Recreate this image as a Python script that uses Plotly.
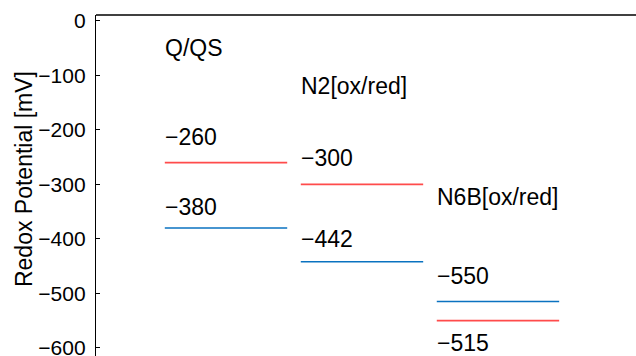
import plotly.graph_objects as go

# Data
groups = ["Q/QS", "N2[ox/red]", "N6B[ox/red]"]
ox_values = [-260, -300, -550]      # red lines
red_values = [-380, -442, -515]     # blue lines
value_labels_top = ["−260", "−300", "−550"]
value_labels_bottom = ["−380", "−442", "−515"]
y_ticks = [0, -100, -200, -300, -400, -500, -600]
y_title = "Redox Potential [mV]"

# Label placement (layout config)
group_label_y = [-49, -120, -323]
top_label_y = [-213, -251, -468]
bottom_label_y = [-341, -400, -591]

RED = "#ff4b4b"
BLUE = "#0a72c0"
half = 0.45
font = "Liberation Sans, Arial, sans-serif"

fig = go.Figure()
for i, g in enumerate(groups):
    c = i + 1
    fig.add_trace(go.Scatter(x=[c - half, c + half], y=[ox_values[i]] * 2, mode="lines",
                             line=dict(color=RED, width=1.6), showlegend=False, hoverinfo="skip"))
    fig.add_trace(go.Scatter(x=[c - half, c + half], y=[red_values[i]] * 2, mode="lines",
                             line=dict(color=BLUE, width=1.6), showlegend=False, hoverinfo="skip"))
    for txt, yy in ((g, group_label_y[i]), (value_labels_top[i], top_label_y[i]),
                    (value_labels_bottom[i], bottom_label_y[i])):
        fig.add_annotation(x=c - half, y=yy, text=txt, showarrow=False, xanchor="left",
                           yanchor="middle", xshift=-2, font=dict(size=23, color="black", family=font))

# y-axis title as rotated annotation
fig.add_annotation(xref="paper", yref="paper", x=-0.1333, y=0.519, text=y_title, textangle=-90,
                   showarrow=False, xanchor="center", yanchor="middle",
                   font=dict(size=23, color="black", family=font))

fig.add_shape(type="line", xref="paper", yref="paper", x0=0, x1=1, y0=1, y1=1,
              line=dict(color="black", width=1.3))

fig.update_layout(
    width=636, height=356,
    margin=dict(l=96, r=0, t=15, b=0, autoexpand=False),
    paper_bgcolor="white", plot_bgcolor="white",
    font=dict(family=font, color="black"),
    xaxis=dict(range=[0.044, 4.015], visible=False, showgrid=False, zeroline=False),
    yaxis=dict(range=[-615, 11], tickvals=y_ticks, ticks="inside", ticklen=4, tickcolor="black",
               automargin=False, ticklabeloverflow="allow", ticklabelstandoff=5,
               showline=True, linecolor="black", linewidth=1.3, showgrid=False, zeroline=False,
               tickfont=dict(size=21, color="black")),
)

fig.write_html("out.html", config={"displayModeBar": False},
               post_script="document.body.style.margin='0';document.body.style.padding='0';")
